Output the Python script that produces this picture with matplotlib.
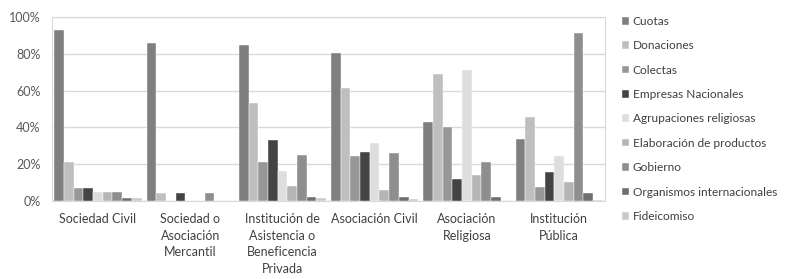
import numpy as np
import matplotlib.pyplot as plt
from matplotlib.ticker import PercentFormatter

plt.rcParams['font.family'] = ['Lato', 'DejaVu Sans']

groups = ['Sociedad Civil', 'Sociedad o\nAsociación\nMercantil',
          'Institución de\nAsistencia o\nBeneficencia\nPrivada',
          'Asociación Civil', 'Asociación\nReligiosa', 'Institución\nPública']
series = ['Cuotas', 'Donaciones', 'Colectas', 'Empresas Nacionales',
          'Agrupaciones religiosas', 'Elaboración de productos', 'Gobierno',
          'Organismos internacionales', 'Fideicomiso']
colors = ['#7f7f7f', '#bfbfbf', '#979797', '#444444', '#dedede',
          '#b5b5b5', '#8e8e8e', '#6f6f6f', '#c9c9c9']

# percent per group, one list per source
cuotas = [92.7, 86, 85, 80.4, 42.8, 33.6]
donaciones = [21, 4.5, 53, 61.3, 68.8, 45.7]
colectas = [7, 0, 21, 24.3, 40.3, 7.4]
empresas = [7, 4.5, 33, 26.8, 11.8, 15.8]
agrupaciones = [5, 0, 16, 31.6, 71.3, 24.3]
elaboracion = [5, 0, 8, 6, 14.2, 10]
gobierno = [5, 4.5, 25, 26, 21.2, 91.3]
organismos = [1.5, 0, 2, 2.2, 2.2, 4.5]
fideicomiso = [1.5, 0, 1.3, 1, 0, 0.5]
values = [cuotas, donaciones, colectas, empresas, agrupaciones,
          elaboracion, gobierno, organismos, fideicomiso]

fig = plt.figure(figsize=(7.85, 2.79), dpi=100)
ax = fig.add_axes([0.066, 0.28, 0.705, 0.659])

x = np.arange(len(groups))
w = 0.105
for i, (name, vals) in enumerate(zip(series, values)):
    ax.bar(x + (i - 4) * w, vals, w, color=colors[i], label=name,
           edgecolor='white', linewidth=0.3, zorder=3)

ax.set_xlim(-0.5, 5.5)
ax.set_ylim(0, 100)
ax.set_yticks(range(0, 101, 20))
ax.yaxis.set_major_formatter(PercentFormatter(decimals=0))
ax.set_xticks(x)
ax.set_xticklabels(groups, fontsize=9, color='#404040', linespacing=1.45)
ax.tick_params(axis='y', labelsize=9, labelcolor='#595959', length=0, pad=8)
ax.tick_params(axis='x', length=0, pad=9)
ax.grid(axis='y', color='#d9d9d9', linewidth=1, zorder=0)
for s in ax.spines.values():
    s.set_color('#d9d9d9')

fig.legend(loc='upper left', bbox_to_anchor=(0.786, 0.96), frameon=False,
           fontsize=8.6, labelcolor='#404040', handlelength=0.6,
           handleheight=0.6, handletextpad=0.3, labelspacing=1.12,
           borderaxespad=0)

fig.savefig('out.png', dpi=100)
